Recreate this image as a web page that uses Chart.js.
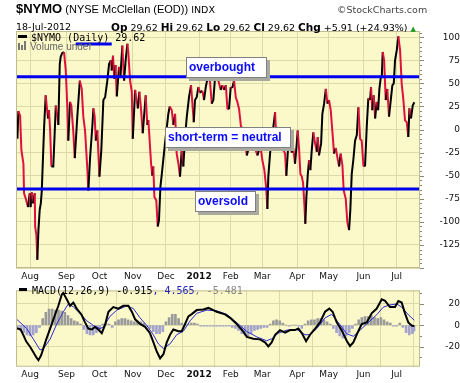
<!DOCTYPE html>
<html>
<head>
<meta charset="utf-8">
<script src="https://cdn.jsdelivr.net/npm/chart.js@4.4.1/dist/chart.umd.min.js"></script>
<style>
  body { margin: 0; background: #fff; }
  #wrap { position: relative; width: 460px; height: 383px; overflow: hidden; font-family: Arial, "Liberation Sans", sans-serif; }
  canvas { position: absolute; left: 0; }
  .txt { position: absolute; white-space: pre; line-height: 1; color: #000; }
  .note { position: absolute; background: #fff; border: 1px solid #808080; box-shadow: 3px 3px 0 #a9a9a0;
          color: #0a0aff; font: bold 12px Arial, sans-serif; line-height: 19px; padding-left: 2px; box-sizing: border-box; }
  .dash { position: absolute; height: 3px; background: #000; }
</style>
</head>
<body>
<div id="wrap">
  <canvas id="mainChart" width="460" height="282" style="top:0"></canvas>
  <canvas id="macdChart" width="460" height="101" style="top:282px"></canvas>

  <div class="txt" style="left:16px; top:2px; font-size:13px;"><b>$NYMO</b><span style="font-size:11px"> (NYSE McClellan (EOD))</span><span style="font:9.5px 'DejaVu Sans'"> INDX</span></div>
  <div class="txt" style="left:337px; top:4px; font:9.5px 'DejaVu Sans'; color:#444">©StockCharts.com</div>
  <div class="txt" style="left:16px; top:21px; font:9.5px 'DejaVu Sans'">18-Jul-2012</div>
  <div class="txt" style="left:111px; top:21px; font:9.5px 'DejaVu Sans'"><b style="font-size:10.5px">Op</b> 29.62 <b style="font-size:10.5px">Hi</b> 29.62 <b style="font-size:10.5px">Lo</b> 29.62 <b style="font-size:10.5px">Cl</b> 29.62 <b style="font-size:10.5px">Chg</b> +5.91 (+24.93%) <span style="color:#1a9a1a;font-size:7px">▲</span></div>

  <div class="dash" style="left:18px; top:35px; width:9px"></div>
  <div class="txt" style="left:31px; top:32px; font:10px 'DejaVu Sans Mono'">$NYMO (Daily) 29.62</div>
  <div style="position:absolute; left:18px; top:43px; width:2px; height:7px; background:#777"></div>
  <div style="position:absolute; left:21px; top:45px; width:2px; height:5px; background:#777"></div>
  <div style="position:absolute; left:24px; top:41px; width:2px; height:9px; background:#777"></div>
  <div class="txt" style="left:30px; top:42px; font-size:10px; color:#666">Volume undef</div>

  <div class="note" style="left:186px; top:57px; width:81px; height:21px">overbought</div>
  <div class="note" style="left:165px; top:127px; width:126px; height:21px">short-term = neutral</div>
  <div class="note" style="left:195px; top:191px; width:61px; height:21px">oversold</div>

  <div class="dash" style="left:19px; top:288px; width:8px"></div>
  <div class="txt" style="left:32px; top:285px; font:10px 'DejaVu Sans Mono'">MACD(12,26,9) -0.915<span style="color:#2222bb">, 4.565</span><span style="color:#888">, -5.481</span></div>
</div>

<script>
// trading-day index (0 = 1 Aug 2011)
const monthDay = [0, 23, 44, 65, 86, 107, 127, 147, 169, 189, 211, 232];
const monthLabel = ['Aug', 'Sep', 'Oct', 'Nov', 'Dec', '2012', 'Feb', 'Mar', 'Apr', 'May', 'Jun', 'Jul'];

const nymoTicks = [-150, -125, -100, -75, -50, -25, 0, 25, 50, 75, 100];
const macdTicks = [-20, 0, 20];

const nymoDay = [-8.0, -7.4, -6.3, -5.5, -4.2, -3.8, -2.7, -1.3, -0.2, 0.3, 1.1, 1.9, 3.0, 3.2, 4.0, 4.6, 5.3, 6.1, 6.8, 7.4,
  8.9, 9.9, 10.8, 11.4, 12.0, 12.7, 13.5, 14.7, 16.3, 17.3, 17.9, 18.8, 19.4, 20.4, 21.5, 22.6, 23.6, 24.2, 25.3, 26.1,
  27.4, 28.3, 29.9, 31.5, 32.7, 33.7, 34.8, 36.3, 36.9, 38.0, 39.4, 40.1, 40.9, 41.6, 42.6, 43.9, 45.1, 46.4, 47.5, 48.9,
  50.0, 51.1, 51.7, 52.5, 53.4, 54.1, 54.9, 56.3, 57.2, 58.4, 59.5, 60.6, 61.6, 62.2, 63.3, 64.4, 65.0, 66.5, 68.2, 69.2,
  70.3, 71.3, 73.2, 74.2, 74.9, 76.6, 77.4, 78.0, 78.7, 79.9, 80.8, 81.6, 82.5, 83.4, 85.4, 87.5, 88.4, 89.7, 90.7, 91.8,
  92.8, 93.9, 94.9, 96.0, 97.0, 98.1, 99.2, 100.6, 101.9, 103.6, 104.4, 105.5, 106.5, 107.6, 109.1, 110.1, 111.2, 112.5, 113.9, 115.0,
  116.0, 117.1, 119.2, 120.7, 121.7, 122.8, 123.9, 124.9, 125.9, 127.0, 128.0, 129.1, 130.2, 131.2, 132.3, 133.5, 135.0, 136.1, 137.2, 138.2,
  139.2, 140.7, 142.4, 143.9, 144.9, 146.0, 147.0, 148.3, 149.4, 150.2, 150.8, 151.9, 153.0, 154.0, 155.1, 155.9, 157.2, 158.2, 159.3, 160.3,
  161.4, 162.2, 163.5, 164.6, 165.6, 166.6, 167.7, 168.8, 169.4, 170.3, 171.1, 172.0, 172.8, 173.6, 174.2, 174.9, 175.8, 176.6, 177.4, 178.3,
  179.3, 180.4, 181.5, 182.1, 182.9, 184.2, 185.0, 186.1, 187.2, 188.2, 189.2, 190.3, 191.3, 192.4, 193.5, 194.5, 195.6, 196.6, 197.7, 198.5,
  199.8, 200.8, 201.9, 202.7, 203.6, 204.6, 205.7, 206.8, 207.8, 208.9, 209.9, 211.0, 212.0, 213.1, 214.1, 215.2, 215.8, 216.6, 217.5, 218.4,
  219.4, 220.3, 221.1, 222.0, 222.6, 223.2, 224.1, 225.1, 226.1, 227.2, 228.3, 229.3, 230.2, 231.0, 232.1, 233.1, 234.2, 235.2, 236.3, 237.3,
  238.4, 239.4, 240.1, 241.1, 242.2, 243.2];
const nymoValue = [-10, 20, 15, -22, -37, -69, -75, -84, -69, -84, -68, -80, -69, -105, -114, -141, -109, -87, -80, -67,
  3, 37, 21, 12, 21, -1, -40, -40, 26, 14, 5, 71, 79, 83, 84, 64, 24, -12, 30, 26,
  -3, -31, 14, 53, 44, 14, -1, -44, -66, -30, 3, 23, 14, -12, -1, -51, -22, 32, 35, 53,
  71, 75, 64, 80, 55, 70, 36, 68, 57, 91, 53, 77, 93, 83, 53, 41, -10, 43, 23, 41,
  21, -4, 37, 5, 10, -37, -50, -40, -73, -77, -105, -98, -62, -48, -15, 17, 25, 21, 5, 17,
  -26, -37, -51, -22, -40, -8, 14, 35, 48, 8, 32, 35, 46, 40, 42, 32, 46, 57, 52, 28,
  32, 57, 53, 43, 48, 43, 48, 23, 22, 46, 45, 53, 35, 30, 22, 3, 1, -15, -28, -21,
  -17, -22, -20, -28, -22, -20, -33, -44, -62, -86, -51, -26, -8, 3, 19, -15, -1, -18, -17, -22,
  -26, -50, -15, -17, -25, -20, -37, -15, -1, -22, -48, -51, -58, -80, -102, -73, -48, -33, -44, -22,
  -3, -15, -24, -8, -28, -15, 17, 28, 44, 28, 32, 21, -1, -26, -20, -30, -40, -26, -39, -66,
  -75, -100, -109, -87, -48, -33, -12, -6, 24, -10, -12, -39, -40, 3, 34, 32, 46, 21, 37, 12,
  30, 21, 44, 57, 57, 84, 75, 32, 44, 14, 32, 48, 50, 75, 86, 101, 86, 50, 32, 10,
  8, -8, 23, 12, 26, 29.62];

// overbought / oversold guide levels and the short mark under the legend
const guideLevels = [57.3, -64.4];
const markDay = [28.9, 51.7];
const markValue = [92.7, 92.7];

const macdDay = [-8.4, -6.0, -4.0, -2.5, 0, 2.0, 4.0, 5.3, 7.0, 10.3, 13.5, 15.8, 17.9, 20.1, 21.0, 23.2, 25.3, 27.4, 29.5, 32.6,
  34.8, 36.9, 39.1, 41.1, 43.2, 45.4, 47.5, 49.6, 52.7, 55.9, 59.0, 62.2, 64.4, 66.5, 69.6, 72.8, 75.9, 78.1, 80.2, 82.3,
  84.4, 86.5, 88.6, 90.7, 93.9, 96.0, 98.1, 100.2, 102.3, 105.5, 109.7, 112.9, 116.0, 118.1, 123.4, 126.6, 130.8, 135.0, 137.2, 141.3,
  145.5, 148.7, 150.8, 152.9, 155.1, 158.2, 161.4, 164.6, 167.7, 169.8, 172.0, 174.7, 177.2, 180.4, 183.5, 186.7, 189.4, 191.5, 194.1, 197.2,
  200.4, 202.5, 204.6, 206.7, 209.9, 213.1, 216.2, 219.4, 222.6, 224.7, 227.8, 231.0, 233.1, 235.2, 237.3, 239.4, 241.5, 243.2];
const macdValue = [-3, -4, -10, -15, -20, -25, -30, -32.5, -28, -13, 0, 9.7, 18, 28.5, 30, 24, 18, 21, 15.4, 9.7,
  2.6, -3.2, -4, -1.7, -4, -7.4, 0.4, 12.5, 16.8, 15.4, 18, 18, 12.5, 5.4, 1.1, -1.5, -7.4, -16, -24.5, -30.8,
  -27, -16, -8.9, -4, -5.6, -5.6, 1.1, 8.2, 10.3, 14, 14.5, 16, 14, 12.5, 10, 6.8, 1.1, -6, -10.9, -12.6,
  -13.2, -16, -19.7, -16, -8.9, -4.6, -6.9, -4.6, -4.6, -3.2, -7.4, -15, -8.9, -3.2, 2.6, 12.5, 15.4, 12.5, 2.6, -4.6,
  -14.5, -19.4, -16, -8.9, 1.1, 2.6, 11, 15.4, 24, 22.6, 16.8, 16.8, 22.5, 21, 11, 2.6, -0.3, -0.915];

const signalDay = [-8.4, -2.1, 2.1, 6.3, 8.4, 12.7, 16.9, 21.1, 24.2, 27.4, 31.6, 35.9, 40.1, 44.3, 46.4, 50.6, 54.9, 61.2, 65.4, 69.6,
  73.9, 78.0, 81.2, 84.4, 88.6, 92.8, 97.0, 101.3, 105.5, 111.8, 118.2, 124.5, 128.7, 132.9, 137.2, 143.5, 149.8, 153.0, 157.2, 162.5,
  168.8, 174.0, 177.2, 181.5, 186.7, 190.9, 195.1, 200.4, 204.6, 208.9, 213.1, 219.4, 223.6, 227.8, 232.1, 235.2, 239.4, 243.2];
const signalValue = [5.4, -3.2, -13, -23, -22, -13, 1.1, 12.5, 19.7, 17, 11, 4, -0.3, -3.2, -1.7, 8.2, 14, 18, 15.4, 6.8,
  -0.3, -8.9, -17.4, -21.7, -17.4, -8.9, -5.6, 4, 11, 14, 13.3, 10, 5, -0.3, -6, -10.9, -14.5, -12.6, -7.4, -4.6,
  -4, -8.9, -8.9, -3.2, 6.8, 10, 2.6, -8, -10.3, -4.6, 1.1, 9.7, 16.8, 18.8, 19.7, 16.8, 9.7, 4.565];

const histDay = [-8, -6, -4, -2, 0, 2, 4, 6, 8, 10, 12, 14, 16, 18, 20, 22, 24, 26, 28, 30,
  32, 34, 36, 38, 40, 42, 44, 46, 48, 50, 52, 54, 56, 58, 60, 62, 64, 66, 68, 70,
  72, 74, 76, 78, 80, 82, 84, 86, 88, 90, 92, 94, 96, 98, 100, 102, 104, 106, 108, 110,
  112, 114, 116, 118, 120, 122, 124, 126, 128, 130, 132, 134, 136, 138, 140, 142, 144, 146, 148, 150,
  152, 154, 156, 158, 160, 162, 164, 166, 168, 170, 172, 174, 176, 178, 180, 182, 184, 186, 188, 190,
  192, 194, 196, 198, 200, 202, 204, 206, 208, 210, 212, 214, 216, 218, 220, 222, 224, 226, 228, 230,
  232, 234, 236, 238, 240, 242, 243];
const histValue = [-3, -5, -7, -9, -10, -9, -7, -2, 6, 12, 15, 15, 14, 14, 13, 12, 9, 6, 4, 3,
  1, -4, -8, -9, -9, -7, -4, 1, 2, 1, -2, 3, 5, 6, 6, 5, 4, 3, 4, 3,
  2, -1, -3, -6, -8, -8, -6, 3, 7, 10, 10, 6, 2, 0, 1, 2, 2, 1, -1, -1,
  -1, -1, -1, -1, -1, -1, -1, -1, -2, -3, -5, -8, -9, -10, -8, -5, -4, -3, -2, -2,
  1, 4, 5, 4, 2, 0, -1, 0, 0, -1, -3, 1, 4, 5, 5, 6, 6, 5, 3, 1,
  -3, -7, -10, -12, -10, -7, -3, 1, 5, 7, 8, 8, 9, 7, 6, 7, 5, 3, 2, -1,
  -1, 2, -2, -7, -9, -8, -5.5];

const xMin = -8.9, xMax = 246.8;
const paper = '#fbf8ca';
const gridColor = '#dcdaa9';
const frameColor = '#bebc90';
const tickFont = { family: 'DejaVu Sans', size: 9 };

const pts = (xs, ys) => xs.map((x, i) => ({ x: x, y: ys[i] }));

function panelPlugin(minorStep, majorStep) {
    return {
        id: 'panel',
        beforeDraw(chart) {
            const a = chart.chartArea, c = chart.ctx;
            c.save();
            c.fillStyle = paper;
            c.fillRect(a.left, a.top, a.right - a.left, a.bottom - a.top);
            c.restore();
        },
        afterDraw(chart) {
            const a = chart.chartArea, c = chart.ctx, y = chart.scales.y;
            c.save();
            c.strokeStyle = frameColor;
            c.lineWidth = 1;
            c.strokeRect(a.left + 0.5, a.top + 0.5, a.right - a.left - 1, a.bottom - a.top - 1);
            // tick marks on the right axis
            c.strokeStyle = '#8a8a70';
            const start = Math.ceil(y.min / minorStep) * minorStep;
            for (let v = start; v <= y.max; v += minorStep) {
                const py = Math.round(y.getPixelForValue(v)) + 0.5;
                const len = (Math.abs(v % majorStep) < 0.01) ? 4 : 2;
                c.beginPath();
                c.moveTo(a.right, py);
                c.lineTo(a.right + len, py);
                c.stroke();
            }
            c.restore();
        }
    };
}

function xScale(height) {
    return {
        type: 'linear', min: xMin, max: xMax, offset: false,
        afterBuildTicks: s => { s.ticks = monthDay.map(v => ({ value: v })); },
        afterFit: s => { s.height = height; },
        ticks: {
            autoSkip: false, maxRotation: 0, padding: 3, color: '#111',
            font: ctx => ({ family: 'DejaVu Sans', size: 9, weight: (ctx.tick && ctx.tick.value === 107) ? 'bold' : 'normal' }),
            callback: v => monthLabel[monthDay.indexOf(v)]
        },
        grid: { color: gridColor, drawTicks: false },
        border: { display: false }
    };
}

function yScale(min, max, ticks, labelled) {
    return {
        position: 'right', min: min, max: max,
        afterBuildTicks: s => { s.ticks = ticks.map(v => ({ value: v })); },
        afterFit: s => { s.width = 40; },
        ticks: {
            padding: 3, crossAlign: 'far', color: '#111', font: tickFont,
            callback: v => labelled.includes(v) ? String(v) : ''
        },
        grid: { color: gridColor, drawTicks: false },
        border: { display: false }
    };
}

new Chart(document.getElementById('mainChart'), {
    type: 'line',
    data: {
        datasets: [
            {
                data: pts(nymoDay, nymoValue), borderWidth: 2, pointRadius: 0, order: 2,
                segment: { borderColor: ctx => ctx.p1.parsed.y >= ctx.p0.parsed.y ? '#000000' : '#e0103c' }
            },
            { data: pts([xMin, xMax], [guideLevels[0], guideLevels[0]]), borderColor: '#0000f0', borderWidth: 3, pointRadius: 0, order: 1 },
            { data: pts([xMin, xMax], [guideLevels[1], guideLevels[1]]), borderColor: '#0000f0', borderWidth: 3, pointRadius: 0, order: 1 },
            { data: pts(markDay, markValue), borderColor: '#0000f0', borderWidth: 3, pointRadius: 0, order: 0, clip: false }
        ]
    },
    options: {
        responsive: false, animation: false, events: [],
        layout: { padding: { left: 16, top: 31, right: 0, bottom: 0 } },
        plugins: { legend: { display: false }, tooltip: { enabled: false } },
        scales: {
            x: xScale(14),
            y: yScale(-150, 106.8, nymoTicks, nymoTicks.filter(v => v > -150))
        }
    },
    plugins: [panelPlugin(5, 25)]
});

new Chart(document.getElementById('macdChart'), {
    type: 'bar',
    data: {
        datasets: [
            { type: 'line', data: pts(macdDay, macdValue), borderColor: '#000', borderWidth: 2, pointRadius: 0, order: 0 },
            { type: 'line', data: pts(signalDay, signalValue), borderColor: '#2b2bd0', borderWidth: 1, pointRadius: 0, order: 1 },
            {
                type: 'bar', data: pts(histDay, histValue), barThickness: 2, order: 2,
                backgroundColor: ctx => (ctx.raw && ctx.raw.y < 0) ? '#a2a2cc' : '#9a9a9a'
            }
        ]
    },
    options: {
        responsive: false, animation: false, events: [],
        layout: { padding: { left: 16, top: 1.3, right: 0, bottom: 0 } },
        plugins: { legend: { display: false }, tooltip: { enabled: false } },
        scales: {
            x: xScale(16.3),
            y: yScale(-38.6, 32.3, macdTicks, macdTicks)
        }
    },
    plugins: [panelPlugin(10, 20)]
});
</script>
</body>
</html>
